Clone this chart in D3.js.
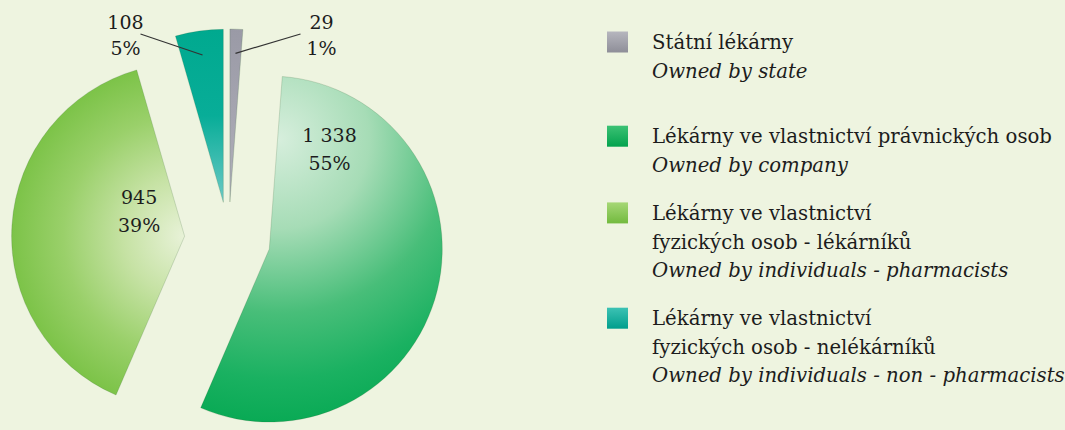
<!DOCTYPE html>
<html>
<head>
<meta charset="utf-8">
<script src="https://cdn.jsdelivr.net/npm/d3@7"></script>
<style>
  body { margin: 0; background: #eef4e0; }
  svg { display: block; }
  text { font-family: "DejaVu Serif", serif; fill: #1c1c1c; }
</style>
</head>
<body>
<svg id="chart"></svg>
<script>
// data
var counts = [29, 1338, 945, 108]
var countLabels = ['29', '1 338', '945', '108']
var percentLabels = ['1%', '55%', '39%', '5%']
var legendCz = [
    ['Státní lékárny'],
    ['Lékárny ve vlastnictví právnických osob'],
    ['Lékárny ve vlastnictví', 'fyzických osob - lékárníků'],
    ['Lékárny ve vlastnictví', 'fyzických osob - nelékárníků']
]
var legendEn = [
    'Owned by state',
    'Owned by company',
    'Owned by individuals - pharmacists',
    'Owned by individuals - non - pharmacists'
]

document.addEventListener('DOMContentLoaded', () => {
    var width = 1065
    var height = 430
    var cx = 228.5, cy = 239
    var radius = 173
    var explode = [37, 42, 44, 37]

    var svg = d3.select('#chart')
        .attr('width', width)
        .attr('height', height)

    svg.append('rect')
        .attr('width', width)
        .attr('height', height)
        .attr('fill', '#eef4e0')

    var defs = svg.append('defs')

    // slice fills
    var g0 = defs.append('linearGradient').attr('id', 'fill0')
        .attr('gradientUnits', 'userSpaceOnUse')
        .attr('x1', 0).attr('y1', -radius).attr('x2', 0).attr('y2', 0)
    g0.append('stop').attr('offset', 0).attr('stop-color', '#9a9aa6')
    g0.append('stop').attr('offset', 1).attr('stop-color', '#b0b0ba')

    var g1 = defs.append('radialGradient').attr('id', 'fill1')
        .attr('gradientUnits', 'userSpaceOnUse')
        .attr('cx', 10).attr('cy', -110).attr('fx', 10).attr('fy', -110).attr('r', 300)
    g1.append('stop').attr('offset', 0).attr('stop-color', '#d6eedc')
    g1.append('stop').attr('offset', 0.3).attr('stop-color', '#a6dcb6')
    g1.append('stop').attr('offset', 0.58).attr('stop-color', '#48be79')
    g1.append('stop').attr('offset', 0.8).attr('stop-color', '#1ab161')
    g1.append('stop').attr('offset', 1).attr('stop-color', '#03a750')

    var g2 = defs.append('radialGradient').attr('id', 'fill2')
        .attr('gradientUnits', 'userSpaceOnUse')
        .attr('cx', 0).attr('cy', 0).attr('r', radius)
    g2.append('stop').attr('offset', 0).attr('stop-color', '#e8f2d8')
    g2.append('stop').attr('offset', 0.35).attr('stop-color', '#c6e2a4')
    g2.append('stop').attr('offset', 0.7).attr('stop-color', '#9ad06a')
    g2.append('stop').attr('offset', 1).attr('stop-color', '#7cc348')

    var g3 = defs.append('linearGradient').attr('id', 'fill3')
        .attr('gradientUnits', 'userSpaceOnUse')
        .attr('x1', 0).attr('y1', -radius).attr('x2', 0).attr('y2', 0)
    g3.append('stop').attr('offset', 0).attr('stop-color', '#00a98f')
    g3.append('stop').attr('offset', 0.5).attr('stop-color', '#08ad98')
    g3.append('stop').attr('offset', 1).attr('stop-color', '#6ccac6')

    // legend swatch fills
    var swatchColors = [['#b6b6be', '#8e8e98'], ['#3cc274', '#03a24e'], ['#a6d776', '#72ba3e'], ['#3cc2b4', '#009e8c']]
    swatchColors.forEach((c, i) => {
        var lg = defs.append('linearGradient').attr('id', 'sw' + i)
            .attr('x1', 0).attr('y1', 0).attr('x2', 0).attr('y2', 1)
        lg.append('stop').attr('offset', 0).attr('stop-color', c[0])
        lg.append('stop').attr('offset', 1).attr('stop-color', c[1])
    })

    var pie = d3.pie().sort(null).value(d => d)
    var arcs = pie(counts)

    var arc = d3.arc().innerRadius(0).outerRadius(radius)
    var pointArc = d3.arc().innerRadius(radius * 0.86).outerRadius(radius * 0.86)

    // offset of each slice along its bisector
    function apex(d, i) {
        var mid = (d.startAngle + d.endAngle) / 2
        return [cx + Math.sin(mid) * explode[i], cy - Math.cos(mid) * explode[i]]
    }

    var slices = svg.append('g')
        .selectAll('g')
        .data(arcs)
        .enter()
        .append('g')
            .attr('transform', (d, i) => 'translate(' + apex(d, i) + ')')

    slices.append('path')
        .attr('d', arc)
        .attr('fill', (d, i) => 'url(#fill' + i + ')')
        .attr('stroke', 'rgba(40,90,40,0.18)')
        .attr('stroke-width', 1)

    // inside labels (company, pharmacists): polar offset from the slice apex
    var insidePos = { 1: [31, 117], 2: [299, 52] }
    Object.keys(insidePos).forEach(k => {
        var i = +k
        var p = apex(arcs[i], i)
        var a = insidePos[k][0] * Math.PI / 180
        var x = p[0] + Math.sin(a) * insidePos[k][1]
        var y = p[1] - Math.cos(a) * insidePos[k][1]
        var t = svg.append('text')
            .attr('text-anchor', 'middle')
            .attr('font-size', 19)
        t.append('tspan').attr('x', x).attr('y', y - 7).text(countLabels[i])
        t.append('tspan').attr('x', x).attr('y', y + 21).text(percentLabels[i])
    })

    // outside labels with leader lines (state, non-pharmacists)
    var outside = { 0: 1, 3: -1 }
    Object.keys(outside).forEach(k => {
        var i = +k
        var side = outside[k]
        var p = apex(arcs[i], i)
        var c = pointArc.centroid(arcs[i])
        var end = [p[0] + c[0], p[1] + c[1]]
        var tx = cx + side * (side > 0 ? 93 : 103)
        svg.append('line')
            .attr('x1', cx + side * (side > 0 ? 72 : 88)).attr('y1', 34)
            .attr('x2', end[0]).attr('y2', end[1])
            .attr('stroke', '#333')
            .attr('stroke-width', 1.2)
        var t = svg.append('text')
            .attr('text-anchor', 'middle')
            .attr('font-size', 19)
        t.append('tspan').attr('x', tx).attr('y', 29).text(countLabels[i])
        t.append('tspan').attr('x', tx).attr('y', 55).text(percentLabels[i])
    })

    // legend
    var lineH = 28.6
    var legend = svg.append('g')
    var y = 42
    legendCz.forEach((lines, i) => {
        var item = legend.append('g')
        item.append('rect')
            .attr('x', 607).attr('y', y - 10.5)
            .attr('width', 21).attr('height', 21)
            .attr('fill', 'url(#sw' + i + ')')
        var all = lines.concat([legendEn[i]])
        all.forEach((s, j) => {
            item.append('text')
                .attr('x', 652)
                .attr('y', y + j * lineH + 7)
                .attr('font-size', 19.7)
                .attr('font-style', j === all.length - 1 ? 'italic' : 'normal')
                .text(s)
        })
        y += all.length * lineH + (i === 0 ? 37 : 19.5)
    })
})
</script>
</body>
</html>
